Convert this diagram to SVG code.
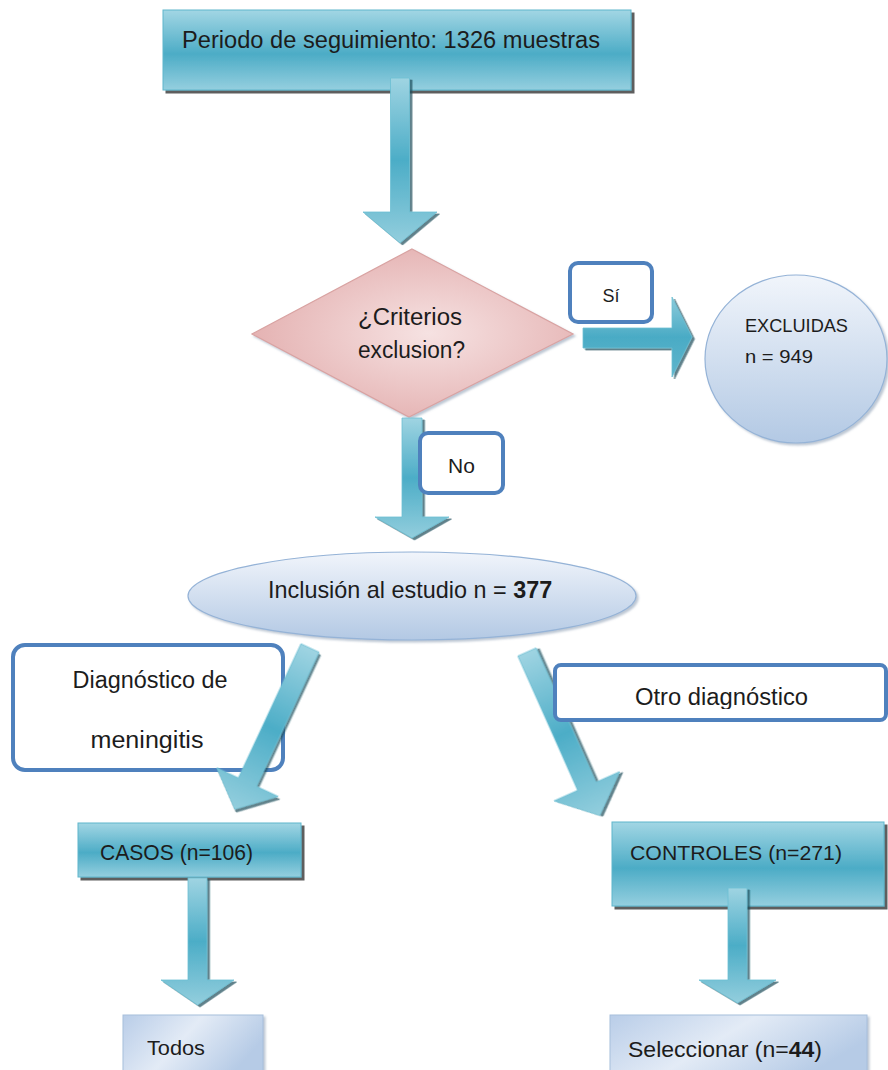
<svg xmlns="http://www.w3.org/2000/svg" width="888" height="1070" viewBox="0 0 888 1070">
<defs>
<style>
.t{font-family:"Liberation Sans",Arial,sans-serif;fill:#1c1c1c;}
.teal{fill:url(#gTeal);stroke:#5fb6cc;stroke-width:1;filter:url(#sh);}
.arr{fill:url(#gArr);stroke:#6cbfd3;stroke-width:0.8;filter:url(#sh2);}
.lbl{fill:#ffffff;stroke:#4f81bd;stroke-width:4;}
.pale{fill:url(#gPale);stroke:#a7bfdc;stroke-width:1;filter:url(#sh3);}
</style>
<linearGradient id="gTeal" x1="0" y1="0" x2="0" y2="1">
<stop offset="0" stop-color="#a2d6e4"/>
<stop offset="0.55" stop-color="#4cacc6"/>
<stop offset="1" stop-color="#95cfdf"/>
</linearGradient>
<linearGradient id="gArr" x1="0" y1="0" x2="0" y2="1">
<stop offset="0" stop-color="#9fd4e2"/>
<stop offset="0.5" stop-color="#4cadc7"/>
<stop offset="1" stop-color="#93cedd"/>
</linearGradient>
<linearGradient id="gArrH" x1="0" y1="0" x2="0" y2="1">
<stop offset="0" stop-color="#8dcbdb"/>
<stop offset="0.5" stop-color="#4aabc5"/>
<stop offset="1" stop-color="#5fb5cc"/>
</linearGradient>
<linearGradient id="gBlue" x1="0" y1="0" x2="0" y2="1">
<stop offset="0" stop-color="#f1f5fb"/>
<stop offset="1" stop-color="#b3c9e4"/>
</linearGradient>
<linearGradient id="gPale" x1="0" y1="0" x2="1" y2="0.4">
<stop offset="0" stop-color="#b9cde8"/>
<stop offset="0.5" stop-color="#e3ebf6"/>
<stop offset="1" stop-color="#b6cbe6"/>
</linearGradient>
<radialGradient id="gPink" cx="0.55" cy="0.5" r="0.6">
<stop offset="0" stop-color="#f6e2e2"/>
<stop offset="1" stop-color="#e3aeae"/>
</radialGradient>
<filter id="sh" x="-5%" y="-10%" width="115%" height="130%">
<feDropShadow dx="3" dy="3" stdDeviation="0.6" flood-color="#2a2a2a" flood-opacity="0.75"/>
</filter>
<filter id="sh2" x="-20%" y="-10%" width="150%" height="130%">
<feDropShadow dx="2.5" dy="2" stdDeviation="0.6" flood-color="#1f4c58" flood-opacity="0.7"/>
</filter>
<filter id="sh3" x="-10%" y="-10%" width="130%" height="130%">
<feDropShadow dx="2" dy="2" stdDeviation="1.2" flood-color="#7a8ea8" flood-opacity="0.5"/>
</filter>
<clipPath id="clipOtro"><rect x="557" y="667" width="327" height="42"/></clipPath>
</defs>

<g id="periodo">
<rect class="teal" x="163" y="10" width="468" height="80"/>
<text class="t" x="182" y="48" font-size="23.5" textLength="418" lengthAdjust="spacingAndGlyphs">Periodo de seguimiento: 1326 muestras</text>
</g>

<g id="criterios">
<polygon points="412,249 573,334 409,417 252,334" fill="url(#gPink)" stroke="#d9a3a2" stroke-width="1.2" filter="url(#sh3)"/>
<text class="t" x="410" y="325" font-size="23" text-anchor="middle" textLength="104" lengthAdjust="spacingAndGlyphs">¿Criterios</text>
<text class="t" x="411.5" y="358" font-size="23" text-anchor="middle" textLength="107" lengthAdjust="spacingAndGlyphs">exclusion?</text>
</g>

<g id="excluidas">
<ellipse cx="796" cy="359" rx="91" ry="84" fill="url(#gBlue)" stroke="#95b3d7" stroke-width="1.2" filter="url(#sh3)"/>
<text class="t" x="745" y="332" font-size="18" textLength="103" lengthAdjust="spacingAndGlyphs">EXCLUIDAS</text>
<text class="t" x="745" y="363" font-size="19" textLength="68" lengthAdjust="spacingAndGlyphs">n = 949</text>
</g>

<g id="inclusion">
<ellipse cx="412" cy="596" rx="224" ry="44" fill="url(#gBlue)" stroke="#95b3d7" stroke-width="1.2" filter="url(#sh3)"/>
<text class="t" x="268" y="598" font-size="23.4">Inclusión al estudio n = <tspan font-weight="bold">377</tspan></text>
</g>

<g id="diag-meningitis">
<rect class="lbl" x="13" y="645" width="270" height="125" rx="12"/>
<text class="t" x="150" y="688" font-size="23" text-anchor="middle" textLength="155" lengthAdjust="spacingAndGlyphs">Diagnóstico de</text>
<text class="t" x="147" y="748" font-size="23" text-anchor="middle" textLength="113" lengthAdjust="spacingAndGlyphs">meningitis</text>
</g>

<g id="casos">
<rect class="teal" x="78" y="823" width="223" height="54"/>
<text class="t" x="100" y="860" font-size="21.5" textLength="153" lengthAdjust="spacingAndGlyphs">CASOS (n=106)</text>
</g>

<g id="controles">
<rect class="teal" x="612" y="822" width="272" height="84"/>
<text class="t" x="630" y="860" font-size="21" textLength="212" lengthAdjust="spacingAndGlyphs">CONTROLES (n=271)</text>
</g>

<g id="todos">
<rect class="pale" x="123" y="1015" width="140" height="62"/>
<text class="t" x="147" y="1055" font-size="21" textLength="58" lengthAdjust="spacingAndGlyphs">Todos</text>
</g>

<g id="seleccionar">
<rect class="pale" x="610" y="1015" width="257" height="62"/>
<text class="t" x="628" y="1057" font-size="21.5" textLength="194" lengthAdjust="spacingAndGlyphs">Seleccionar (n=<tspan font-weight="bold">44</tspan>)</text>
</g>

<g id="connectors">
<path class="arr" d="M390.5,78 H409.5 V212 H437 L400,243 L363,212 H390.5 Z"/>
<path class="arr" d="M583,328 H672 V297 L692,337 L672,377 V348 H583 Z" style="fill:url(#gArrH)"/>
<path class="arr" d="M402,418 H422 V517 H449 L412,538 L375,517 H402 Z"/>
<path class="arr" transform="translate(310,648) rotate(25)" d="M-10,0 H10 V148 H34 L0,178 L-34,148 H-10 Z"/>
<path class="arr" transform="translate(527,652) rotate(-24)" d="M-10,0 H10 V147 H36 L0,179 L-36,147 H-10 Z"/>
<path class="arr" d="M188,878 H207 V980 H234 L197.5,1005 L161,980 H188 Z"/>
<path class="arr" d="M728,888 H747 V980 H776 L737.5,1003 L699,980 H728 Z"/>
</g>

<g id="label-si">
<rect class="lbl" x="570" y="263" width="82" height="59" rx="8"/>
<text class="t" x="611" y="302" font-size="19" text-anchor="middle" textLength="17" lengthAdjust="spacingAndGlyphs">Sí</text>
</g>

<g id="label-no">
<rect class="lbl" x="420" y="433" width="83" height="60" rx="8"/>
<text class="t" x="461.5" y="473" font-size="21" text-anchor="middle">No</text>
</g>

<g id="otro-diagnostico">
<rect class="lbl" x="555" y="665" width="331" height="55" rx="6"/>
<text class="t" x="635" y="705" font-size="23" textLength="173" lengthAdjust="spacingAndGlyphs" clip-path="url(#clipOtro)">Otro diagnóstico</text>
</g>
</svg>
